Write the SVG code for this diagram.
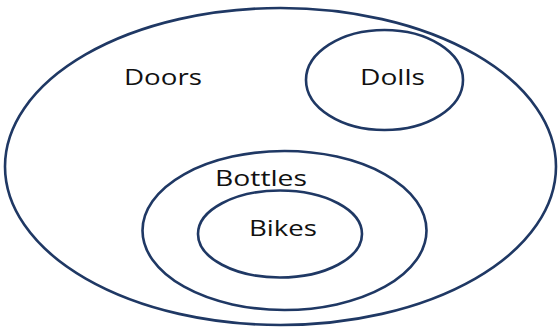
<svg xmlns="http://www.w3.org/2000/svg" width="558" height="329" viewBox="0 0 558 329">
<style>
.s{fill:none;stroke:#1f3864;stroke-width:2.6}
.t{font-family:"Open Sans","Noto Sans",sans-serif;font-size:22px;fill:#111}
</style>
<rect width="558" height="329" fill="#fff"/>
<g id="doors"><ellipse class="s" cx="280.5" cy="166.5" rx="275.5" ry="158.5"/><text class="t" x="124" y="85" textLength="78" lengthAdjust="spacingAndGlyphs">Doors</text></g>
<g id="dolls"><ellipse class="s" cx="384.5" cy="80" rx="78.5" ry="50"/><text class="t" x="360" y="85" textLength="65" lengthAdjust="spacingAndGlyphs">Dolls</text></g>
<g id="bottles"><ellipse class="s" cx="284.5" cy="230.5" rx="142" ry="79.5"/><text class="t" x="215" y="186" textLength="92" lengthAdjust="spacingAndGlyphs">Bottles</text></g>
<g id="bikes"><ellipse class="s" cx="280" cy="234" rx="82" ry="43.5"/><text class="t" x="249" y="236" textLength="68" lengthAdjust="spacingAndGlyphs">Bikes</text></g>
<g id="connectors"/>
</svg>
